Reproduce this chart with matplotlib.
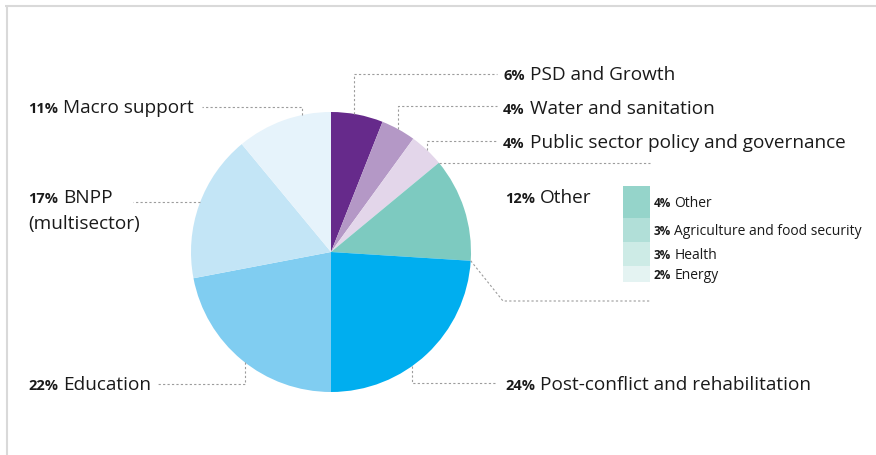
import numpy as np
import matplotlib
matplotlib.use("Agg")
import matplotlib.pyplot as plt

# ---- data ----
sectors = ["PSD and Growth", "Water and sanitation", "Public sector policy and governance",
           "Other", "Post-conflict and rehabilitation", "Education", "BNPP\n(multisector)",
           "Macro support"]
shares = [6, 4, 4, 12, 24, 22, 17, 11]
sector_colors = ["#662a8b", "#b498c6", "#e3d6ea", "#7dcac0", "#00aeef", "#80cdf1",
                 "#c3e5f6", "#e6f3fb"]
other_parts = ["Other", "Agriculture and food security", "Health", "Energy"]
other_shares = [4, 3, 3, 2]
other_colors = ["#95d4ca", "#b1dfd8", "#cdebe6", "#e4f3f2"]

plt.rcParams['font.family'] = ['Open Sans', 'DejaVu Sans']

W, H = 876, 456
fig = plt.figure(figsize=(W / 100, H / 100), dpi=100)
ax = fig.add_axes([0, 0, 1, 1])
ax.axis('off')


def Y(p):
    return H - np.asarray(p, dtype=float)


cx, cy, R = 331, 253, 140
ax.pie(shares, colors=sector_colors, startangle=90, counterclock=False,
       center=(cx, Y(cy)), radius=R, wedgeprops=dict(linewidth=0))
ax.set_xlim(0, W)
ax.set_ylim(0, H)
ax.set_aspect('auto')

renderer = fig.canvas.get_renderer()
TXT = "#1a1a1a"
LC = "#9c9c9c"


def leader(xs, ys):
    ax.plot(xs, Y(ys), color=LC, lw=0.8, linestyle=(0, (2, 2)), solid_capstyle='butt')


def edge_y(x, upper=True):
    d = np.sqrt(R ** 2 - (x - cx) ** 2)
    return cy - d if upper else cy + d


def edge_x(y, left=True):
    d = np.sqrt(R ** 2 - (y - cy) ** 2)
    return cx - d if left else cx + d


def boundary(frac):
    th = 2 * np.pi * frac
    return cx + R * np.sin(th), cy - R * np.cos(th)


def label(x, ybase, pct, name, psize=10.5, nsize=13.7, gap=5, lh=26):
    t = ax.text(x, Y(ybase), f"{pct}%", fontsize=psize, fontweight='bold',
                va='baseline', ha='left', color=TXT)
    bb = t.get_window_extent(renderer)
    lines = name.split("\n")
    ax.text(bb.x1 + gap, Y(ybase), lines[0], fontsize=nsize, va='baseline',
            ha='left', color=TXT)
    for i, ln in enumerate(lines[1:], 1):
        ax.text(x, Y(ybase + i * lh), ln, fontsize=nsize, va='baseline',
                ha='left', color=TXT)


cum = np.cumsum([0] + shares)

# right side labels
label(503, 80.5, shares[0], sectors[0])
leader([354, 354, 497], [edge_y(354), 75, 75])
label(503, 114, shares[1], sectors[1])
leader([398, 398, 497], [edge_y(398), 107, 107])
label(503, 148, shares[2], sectors[2])
leader([427, 427, 497], [edge_y(427), 142, 142])

# Other bracket
bx, by = boundary(cum[3] / 100)
leader([bx, 650], [by, by])
bx2, by2 = boundary(cum[4] / 100)
leader([bx2, 503, 650], [by2, 302, 302])
label(505, 203, shares[3], sectors[3])

label(505, 390, shares[4], sectors[4])
leader([412, 412, 497], [edge_y(412, False), 384, 384])

# left side labels
label(28, 390, shares[5], sectors[5])
leader([245, 245, 157], [edge_y(245, False), 385, 385])
label(28, 203, shares[6], sectors[6])
leader([edge_x(203), 133], [203, 203])
label(28, 113, shares[7], sectors[7])
leader([302, 302, 202], [edge_y(302), 108, 108])

# Other breakdown as a stacked bar
unit = 8.0
top = 187
c = 0
for part, v, col in zip(other_parts, other_shares, other_colors):
    y0 = top + c * unit
    ax.bar(636.5, v * unit, bottom=Y(y0 + v * unit), width=27, color=col, linewidth=0)
    label(654, y0 + v * unit / 2 + 4, v, part, psize=8.5, nsize=10, gap=3)
    c += v

# frame
ax.plot([5, W], [Y(7), Y(7)], color="#d9d9d9", lw=1.5, solid_capstyle='butt')
ax.plot([7, 7], [Y(7), Y(H)], color="#d9d9d9", lw=1.5, solid_capstyle='butt')

fig.savefig("out.png", dpi=100)
